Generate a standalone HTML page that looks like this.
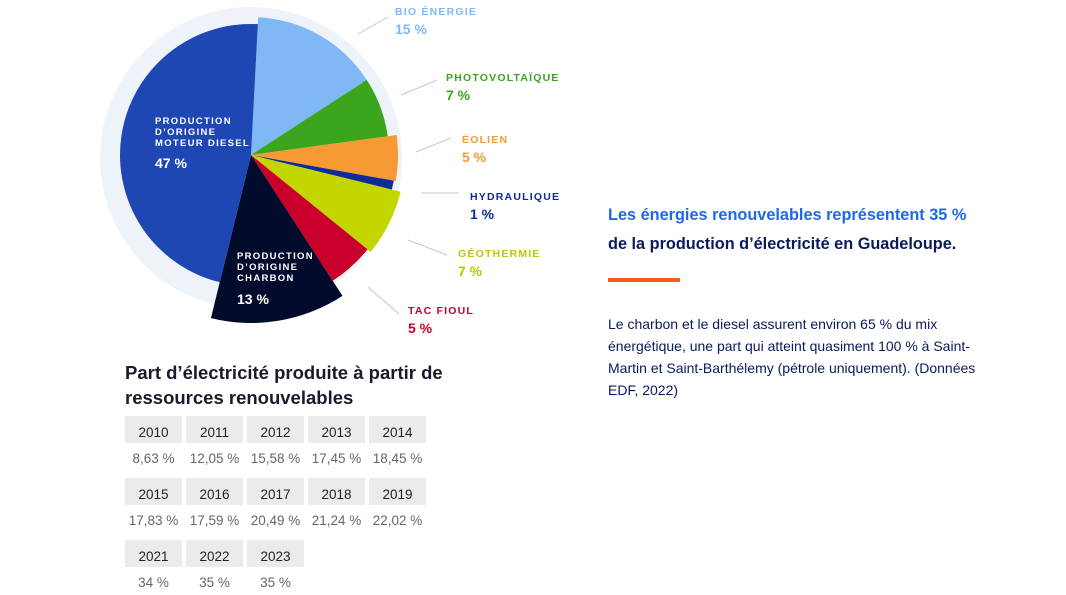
<!DOCTYPE html>
<html><head><meta charset="utf-8">
<style>
body{margin:0;width:1066px;height:595px;background:#fff;font-family:"Liberation Sans",sans-serif;position:relative;overflow:hidden}
.abs{position:absolute}
.lab{position:absolute;font-weight:bold;font-size:10.5px;letter-spacing:1.2px;line-height:17px}
.lab b{display:block;font-size:14px;letter-spacing:0}
.cell{position:absolute;width:57px;height:27px;background:#ebebeb;color:#222;font-size:13.5px;text-align:center;line-height:33px}
.val{position:absolute;width:61px;text-align:center;color:#666;font-size:13.5px}
</style></head><body>
<svg class="abs" style="left:0;top:0" width="600" height="340">
<circle cx="251" cy="158" r="151" fill="#eef3f9"/>
<g id="slices"></g>
<g stroke="#c8c8c8" stroke-width="1">
<line x1="358" y1="34" x2="388" y2="17"/>
<line x1="401" y1="95" x2="437" y2="80"/>
<line x1="416" y1="152" x2="451" y2="138"/>
<line x1="421" y1="193" x2="459" y2="193"/>
<line x1="408" y1="240" x2="447" y2="255"/>
<line x1="368" y1="287" x2="399" y2="314"/>
</g>
<g fill="#fff" font-weight="bold" font-family="Liberation Sans,sans-serif">
<text x="155" y="124" font-size="9.5" letter-spacing="1.3">PRODUCTION</text>
<text x="155" y="135" font-size="9.5" letter-spacing="1.3">D’ORIGINE</text>
<text x="155" y="146" font-size="9.5" letter-spacing="1.3">MOTEUR DIESEL</text>
<text x="155" y="168" font-size="14">47 %</text>
<text x="237" y="259" font-size="9.5" letter-spacing="1.3">PRODUCTION</text>
<text x="237" y="270" font-size="9.5" letter-spacing="1.3">D’ORIGINE</text>
<text x="237" y="281" font-size="9.5" letter-spacing="1.3">CHARBON</text>
<text x="237" y="304" font-size="14">13 %</text>
</g>
</svg>
<div class="lab" style="left:395px;top:4px;color:#7fb8f5">BIO ÉNERGIE<b>15 %</b></div>
<div class="lab" style="left:446px;top:70px;color:#3aa51d">PHOTOVOLTAÏQUE<b>7 %</b></div>
<div class="lab" style="left:462px;top:132px;color:#f79a34">ÉOLIEN<b>5 %</b></div>
<div class="lab" style="left:470px;top:189px;color:#0d2c9a">HYDRAULIQUE<b>1 %</b></div>
<div class="lab" style="left:458px;top:246px;color:#b8c800">GÉOTHERMIE<b>7 %</b></div>
<div class="lab" style="left:408px;top:303px;color:#c8002a">TAC FIOUL<b>5 %</b></div>

<div class="abs" style="left:608px;top:201px;font-size:16.3px;font-weight:bold;line-height:29px;color:#0a1a5c"><span style="color:#1d6ae5">Les énergies renouvelables représentent 35 %</span><br>de la production d’électricité en Guadeloupe.</div>
<div class="abs" style="left:608px;top:278px;width:72px;height:4px;background:#f25c1e"></div>
<div class="abs" style="left:608px;top:313px;width:400px;font-size:14px;line-height:22px;color:#0a1a5c">Le charbon et le diesel assurent environ 65 % du mix<br>énergétique, une part qui atteint quasiment 100 % à Saint-<br>Martin et Saint-Barthélemy (pétrole uniquement). (Données<br>EDF, 2022)</div>

<div class="abs" style="left:125px;top:360px;font-size:18.5px;font-weight:bold;line-height:25px;color:#1a1a2a">Part d’électricité produite à partir de<br>ressources renouvelables</div>
<div id="table"></div>

<script>
const categories=["Bio énergie","Photovoltaïque","Éolien","Hydraulique","Géothermie","TAC fioul","Charbon","Diesel"];
const shares=[15,7,5,1,7,5,13,47];
const colors=["#7fb8f5","#3aa51d","#f79a34","#0d2c9a","#c4d600","#c8002a","#030b2c","#1f47b3"];
const radii=[138,138,147,145,154,150,168,131];
const years=["2010","2011","2012","2013","2014","2015","2016","2017","2018","2019","2021","2022","2023"];
const values=["8,63 %","12,05 %","15,58 %","17,45 %","18,45 %","17,83 %","17,59 %","20,49 %","21,24 %","22,02 %","34 %","35 %","35 %"];
const cx=251,cy=155,start=3;
const total=shares.reduce((a,b)=>a+b,0);
const g=document.getElementById('slices');
let a0=start;
function pt(a,r){const t=(a-90)*Math.PI/180;return [cx+r*Math.cos(t),cy+r*Math.sin(t)];}
shares.forEach((s,i)=>{
  const a1=a0+s/total*360;const r=radii[i];
  const p0=pt(a0,r),p1=pt(a1,r);
  const p=document.createElementNS('http://www.w3.org/2000/svg','path');
  p.setAttribute('d',`M${cx},${cy}L${p0[0]},${p0[1]}A${r},${r} 0 ${a1-a0>180?1:0} 1 ${p1[0]},${p1[1]}Z`);
  p.setAttribute('fill',colors[i]);
  
  
  g.appendChild(p);a0=a1;
});
const tb=document.getElementById('table');
years.forEach((y,i)=>{
  const col=i%5,row=Math.floor(i/5);
  const x=125+col*61,top=416+row*62;
  const c=document.createElement('div');c.className='cell';c.style.left=x+'px';c.style.top=top+'px';c.textContent=y;
  
  
  tb.appendChild(c);
  const v=document.createElement('div');v.className='val';v.style.left=(x-2)+'px';v.style.top=(top+35)+'px';v.textContent=values[i];
  
  
  tb.appendChild(v);
});
</script>
</body></html>
